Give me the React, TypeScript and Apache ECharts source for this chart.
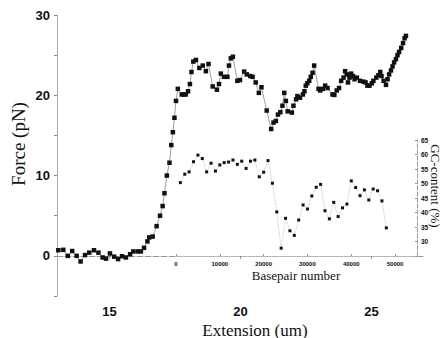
import React, { useEffect, useRef } from "react";
import * as echarts from "echarts";

// Main trace: extension (um) vs force (pN)
const extension = [
  13.05, 13.24, 13.41, 13.58, 13.75, 13.9, 14.07, 14.23, 14.41, 14.58, 14.74, 14.87,
  15.02, 15.18, 15.33, 15.48, 15.63, 15.79, 15.91, 16.08, 16.2, 16.32, 16.45, 16.52,
  16.65, 16.8, 16.93, 17.03, 17.1, 17.19, 17.29, 17.36, 17.42, 17.48, 17.54, 17.61,
  17.76, 17.83, 17.91, 18.0, 18.07, 18.13, 18.2, 18.3, 18.43, 18.56, 18.68, 18.78,
  18.94, 19.1, 19.18, 19.25, 19.37, 19.5, 19.56, 19.63, 19.71, 19.88, 19.98, 20.14,
  20.24, 20.37, 20.46, 20.58, 20.7, 20.8, 21.0, 21.17, 21.26, 21.35, 21.43, 21.52,
  21.6, 21.67, 21.73, 21.8, 21.96, 22.02, 22.12, 22.17, 22.27, 22.38, 22.44, 22.49,
  22.55, 22.62, 22.68, 22.75, 22.81, 22.98, 23.04, 23.14, 23.23, 23.32, 23.51, 23.58,
  23.67, 23.76, 23.84, 23.93, 23.99, 24.06, 24.1, 24.16, 24.22, 24.29, 24.35, 24.44,
  24.56, 24.69, 24.77, 24.84, 24.92, 25.01, 25.07, 25.18, 25.26, 25.33, 25.38, 25.46,
  25.55, 25.61, 25.67, 25.74, 25.8, 25.86, 25.93, 25.99, 26.05, 26.13, 26.2, 26.26,
  26.31,
];
const force = [
  0.7, 0.75, 0.0, 0.6, 0.0, -0.7, 0.1, 0.4, 0.7, 0.4, -0.2, -0.35,
  0.3, -0.1, -0.4, -0.05, -0.2, 0.2, 0.55, 0.55, 0.55, 1.0, 1.8, 2.3,
  2.4, 3.7, 5.0, 6.2, 7.8, 10.0, 11.6, 13.8, 15.4, 17.2, 19.3, 20.8,
  20.1, 20.1, 20.1, 20.5, 21.4, 22.9, 24.2, 24.4, 23.4, 23.7, 23.0, 23.9,
  21.1, 20.7, 21.4, 22.7, 22.3, 22.3, 23.7, 24.6, 24.8, 21.8, 21.9, 22.95,
  22.6, 22.4, 22.3, 21.6, 20.3, 21.0, 18.1, 15.8, 16.6, 16.8, 17.6, 17.9,
  18.7, 20.3, 19.3, 18.0, 17.85, 18.7, 19.5, 19.9, 19.7, 20.1, 20.5, 21.2,
  21.5, 21.8, 22.3, 22.8, 23.7, 20.8, 20.6, 20.8, 21.2, 20.9, 20.1, 20.05,
  20.6, 20.9, 21.8, 22.2, 23.0, 22.6, 21.6, 22.2, 22.7, 22.4, 22.0, 22.2,
  21.8, 21.7, 21.6, 21.2, 21.2, 21.5, 21.8, 22.2, 22.5, 22.9, 22.4, 21.8,
  21.3, 22.0, 22.6, 23.1, 23.6, 24.1, 24.5, 25.0, 25.4, 25.9, 26.5, 27.1,
  27.4,
];

// Inset: basepair number vs GC content (%)
const basepairs = [
  1000, 2000, 3000, 4000, 5000, 6000, 7000, 8000, 9000, 10000, 11000, 12000,
  13000, 14000, 15000, 16000, 17000, 18000, 19000, 20000, 21000, 22000, 23000, 24000,
  25000, 26000, 27000, 28000, 29000, 30000, 31000, 32000, 33000, 34000, 35000, 36000,
  37000, 38000, 39000, 40000, 41000, 42000, 43000, 44000, 45000, 46000, 47000, 48000,
];
const gcContent = [
  50.3, 53.2, 54.0, 57.5, 59.8, 58.6, 54.0, 57.0, 54.3, 56.4, 57.2, 57.4,
  58.1, 56.6, 57.7, 55.2, 57.7, 58.1, 52.3, 53.9, 57.9, 50.1, 40.2, 27.7,
  38.0, 33.7, 32.1, 37.4, 42.6, 41.2, 45.7, 48.7, 49.7, 40.6, 37.8, 43.5,
  38.6, 41.6, 42.9, 50.9, 48.6, 45.8, 47.8, 44.3, 48.1, 47.5, 44.0, 34.7,
];

const extensionTicks = [15, 20, 25];

export default function App() {
  const ref = useRef<HTMLDivElement>(null);
  useEffect(() => {
    const chart = echarts.init(ref.current!, null, { renderer: "svg" });
    const sans = "'Liberation Sans', Arial, sans-serif";
    const serif = "'Liberation Serif', 'Times New Roman', serif";
    chart.setOption({
      animation: false,
      backgroundColor: "#fff",
      grid: [
        { left: 57, top: 15, right: 20, bottom: 42 },
        { left: 176, top: 140, right: 27, bottom: 82 },
      ],
      xAxis: [
        {
          type: "value",
          gridIndex: 0,
          min: 13,
          max: 27,
          axisLine: { show: true, lineStyle: { color: "#999", width: 1, type: [6, 2] } },
          axisTick: { show: true, customValues: extensionTicks, length: 3, lineStyle: { color: "#888" } },
          axisLabel: {
            customValues: extensionTicks,
            fontSize: 13,
            fontWeight: "bold",
            fontFamily: sans,
            color: "#111",
            margin: 9,
          },
          splitLine: { show: false },
        },
        {
          type: "value",
          gridIndex: 1,
          min: 0,
          max: 55000,
          interval: 10000,
          axisLine: { show: true, lineStyle: { color: "#bbb", width: 1, type: "dotted" } },
          axisTick: { show: true, inside: true, length: 2, lineStyle: { color: "#999" } },
          axisLabel: {
            fontSize: 6,
            fontWeight: "bold",
            fontFamily: sans,
            color: "#111",
            margin: 5,
            formatter: (v: number) => (v % 10000 === 0 ? String(v) : ""),
          },
          splitLine: { show: false },
        },
      ],
      yAxis: [
        {
          type: "value",
          gridIndex: 0,
          min: -5,
          max: 30,
          interval: 5,
          axisLine: { show: true, lineStyle: { color: "#aaa", width: 1 } },
          axisTick: { show: true, length: 3, lineStyle: { color: "#888" } },
          axisLabel: {
            fontSize: 13,
            fontWeight: "bold",
            fontFamily: sans,
            color: "#111",
            margin: 7,
            formatter: (v: number) => (v % 10 === 0 ? String(v) : ""),
          },
          splitLine: { show: false },
        },
        {
          type: "value",
          gridIndex: 1,
          position: "right",
          min: 25,
          max: 65,
          interval: 5,
          axisLine: { show: true, onZero: false, lineStyle: { color: "#999", width: 1, type: [4, 2] } },
          axisTick: { show: true, inside: true, length: 2, lineStyle: { color: "#999" } },
          axisLabel: {
            fontSize: 6.5,
            fontWeight: "bold",
            fontFamily: sans,
            color: "#111",
            margin: 4,
            formatter: (v: number) => (v === 25 ? "" : String(v)),
          },
          splitLine: { show: false },
        },
      ],
      series: [
        {
          type: "line",
          xAxisIndex: 0,
          yAxisIndex: 0,
          data: extension.map((x, i) => [x, force[i]]),
          symbol: "rect",
          symbolSize: 4.5,
          itemStyle: { color: "#111" },
          lineStyle: { color: "#777", width: 0.7 },
        },
        {
          type: "line",
          xAxisIndex: 1,
          yAxisIndex: 1,
          data: basepairs.map((x, i) => [x, gcContent[i]]),
          symbol: "rect",
          symbolSize: 3,
          itemStyle: { color: "#111" },
          lineStyle: { color: "#aaa", width: 0.7, type: "dotted" },
        },
      ],
      graphic: [
        {
          type: "text",
          x: 18,
          y: 144,
          rotation: Math.PI / 2,
          style: { text: "Force (pN)", fontSize: 19, fontFamily: serif, fill: "#111", align: "center", verticalAlign: "middle" },
        },
        {
          type: "text",
          x: 255,
          y: 330,
          style: { text: "Extension (um)", fontSize: 17, fontFamily: serif, fill: "#111", align: "center", verticalAlign: "middle" },
        },
        {
          type: "text",
          x: 296,
          y: 275,
          style: { text: "Basepair number", fontSize: 13, fontFamily: serif, fill: "#111", align: "center", verticalAlign: "middle" },
        },
        {
          type: "text",
          x: 435,
          y: 186,
          rotation: -Math.PI / 2,
          style: { text: "GC-content (%)", fontSize: 13, fontFamily: serif, fill: "#111", align: "center", verticalAlign: "middle" },
        },
      ],
    });
    return () => chart.dispose();
  }, []);
  return (
    <div
      ref={ref}
      style={{ position: "fixed", left: 0, top: 0, width: 444, height: 338, background: "#fff" }}
    />
  );
}
